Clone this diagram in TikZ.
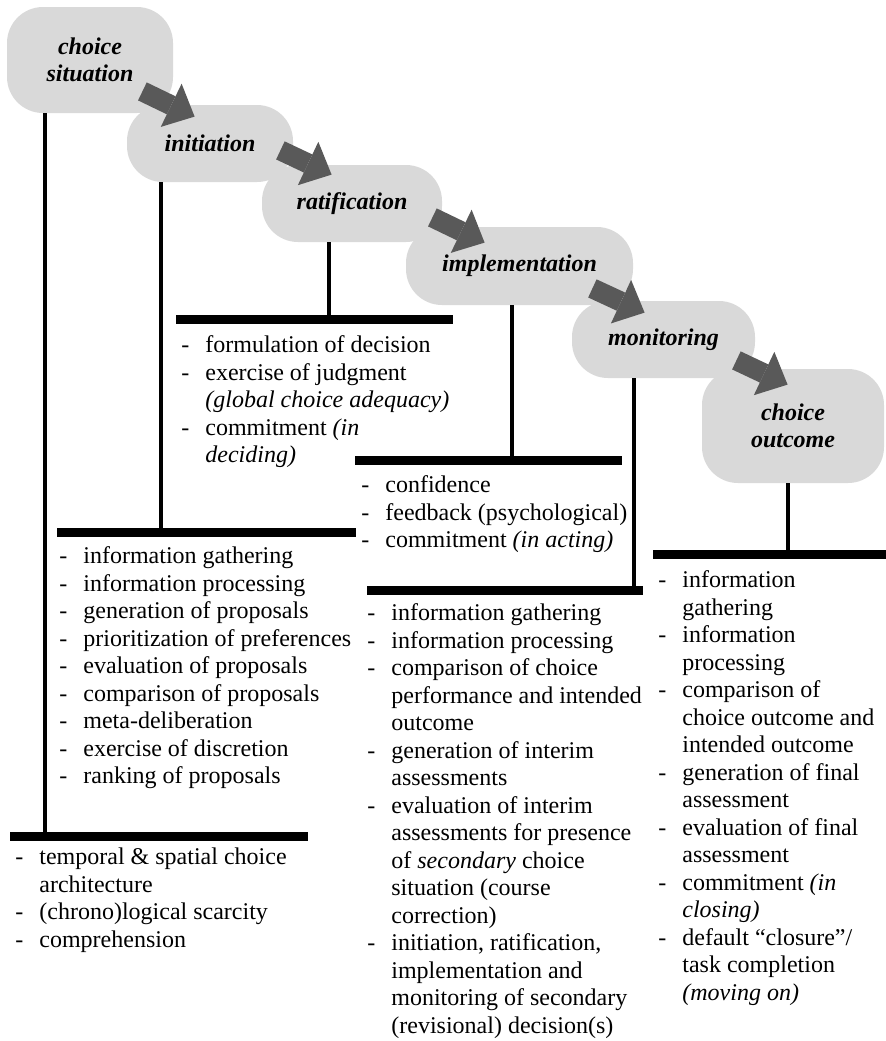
\documentclass[tikz,border=0pt]{standalone}
\usepackage{fontspec}
\setmainfont{Liberation Serif}
\usetikzlibrary{arrows.meta,calc}
\definecolor{boxgray}{HTML}{D9D9D9}
\definecolor{arrowgray}{HTML}{595959}
\newcommand{\fs}{\fontsize{12}{13.75}\selectfont}
\newcommand{\itm}{\strut\makebox[12pt][l]{-}}
\newcommand{\cnt}{\strut\hspace*{12pt}}

\begin{document}
\begin{tikzpicture}[
  x=0.5pt, y=-0.5pt,
  phase/.style={rectangle, fill=boxgray, rounded corners=18pt, inner sep=0pt, align=center, font=\fs\bfseries\itshape},
  flow/.style={arrowgray, line width=10pt, -{Triangle[length=13pt, width=24pt, line width=0pt]}},
  stem/.style={line width=2pt},
  bar/.style={line width=4.5pt},
  items/.style={anchor=north west, align=left, inner sep=0pt, font=\fs}
]
\useasboundingbox (0,0) rectangle (886,1041);

% phases
\node[phase, minimum width=83pt, minimum height=53pt] (cs) at (90,60) {choice\\situation};
\node[phase, minimum width=83pt, minimum height=38.5pt] (ini) at (210,143.5) {initiation};
\node[phase, minimum width=90pt, minimum height=38.5pt] (rat) at (352,203.5) {ratification};
\node[phase, minimum width=113.5pt, minimum height=39pt] (imp) at (519.5,266) {implementation};
\node[phase, minimum width=91.5pt, minimum height=38.5pt] (mon) at (663.5,339.5) {monitoring};
\node[phase, minimum width=91pt, minimum height=57pt] (co) at (793,426) {choice\\outcome};

% block arrows between phases
\draw[flow] ($(cs.south east)+(-31,-22)$) -- ($(ini.north west)+(68,12)$);
\draw[flow] ($(ini.south east)+(-13,-32)$) -- ($(rat.north west)+(70,10)$);
\draw[flow] ($(rat.south east)+(-10,-25)$) -- ($(imp.north west)+(79,16)$);
\draw[flow] ($(imp.south east)+(-41,-17)$) -- ($(mon.north west)+(73,12)$);
\draw[flow] ($(mon.south east)+(-19,-18)$) -- ($(co.north west)+(86,16)$);

% stems down to the bars
\coordinate (jA) at (45,836);
\coordinate (jB) at (161,532);
\coordinate (jC) at (329,319);
\coordinate (jD) at (512,460);
\coordinate (jE) at (634,590);
\coordinate (jF) at (788,554);
\draw[stem] (cs.south -| jA) -- (jA);
\draw[stem] (ini.south -| jB) -- (jB);
\draw[stem] (rat.south -| jC) -- (jC);
\draw[stem] (imp.south -| jD) -- (jD);
\draw[stem] (mon.south -| jE) -- (jE);
\draw[stem] (co.south -| jF) -- (jF);

% bars
\draw[bar] (10,836) -- (308,836);
\draw[bar] (57,532) -- (356,532);
\draw[bar] (176,319) -- (453,319);
\draw[bar] (355,460) -- (622,460);
\draw[bar] (367,590) -- (643,590);
\draw[bar] (653,554) -- (886,554);

% lists (top = first baseline - 19.25)
\node[items] (lA) at (15,845) {\itm temporal \& spatial choice\\
  \cnt architecture\\
  \itm (chrono)logical scarcity\\
  \itm comprehension};
\node[items] (lB) at (59,544) {\itm information gathering\\
  \itm information processing\\
  \itm generation of proposals\\
  \itm prioritization of preferences\\
  \itm evaluation of proposals\\
  \itm comparison of proposals\\
  \itm meta-deliberation\\
  \itm exercise of discretion\\
  \itm ranking of proposals};
\node[items] (lC) at (181,333) {\itm formulation of decision\\
  \itm exercise of judgment\\
  \cnt \textit{(global choice adequacy)}\\
  \itm commitment \textit{(in}\\
  \cnt \textit{deciding)}};
\node[items] (lD) at (361,473) {\itm confidence\\
  \itm feedback (psychological)\\
  \itm commitment \textit{(in acting)}};
\node[items] (lE) at (367,601) {\itm information gathering\\
  \itm information processing\\
  \itm comparison of choice\\
  \cnt performance and intended\\
  \cnt outcome\\
  \itm generation of interim\\
  \cnt assessments\\
  \itm evaluation of interim\\
  \cnt assessments for presence\\
  \cnt of \textit{secondary} choice\\
  \cnt situation (course\\
  \cnt correction)\\
  \itm initiation, ratification,\\
  \cnt implementation and\\
  \cnt monitoring of secondary\\
  \cnt (revisional) decision(s)};
\node[items] (lF) at (658,568) {\itm information\\
  \cnt gathering\\
  \itm information\\
  \cnt processing\\
  \itm comparison of\\
  \cnt choice outcome and\\
  \cnt intended outcome\\
  \itm generation of final\\
  \cnt assessment\\
  \itm evaluation of final\\
  \cnt assessment\\
  \itm commitment \textit{(in}\\
  \cnt \textit{closing)}\\
  \itm default “closure”/\\
  \cnt task completion\\
  \cnt \textit{(moving on)}};
\end{tikzpicture}
\end{document}
